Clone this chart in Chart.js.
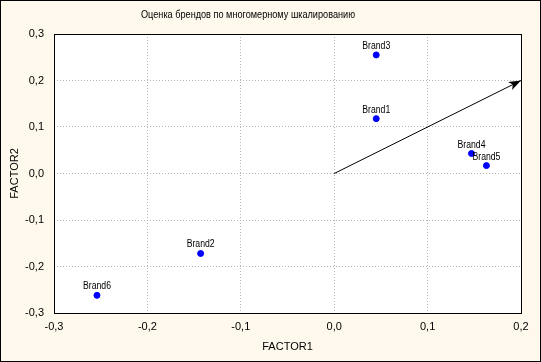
<!DOCTYPE html>
<html>
<head>
<meta charset="utf-8">
<script src="https://cdn.jsdelivr.net/npm/chart.js@4/dist/chart.umd.min.js"></script>
<style>
  body { margin: 0; background: #fef9ec; }
  canvas { display: block; }
</style>
</head>
<body>
<canvas id="chart" width="541" height="362"></canvas>
<script>
const brands = ['Brand1', 'Brand2', 'Brand3', 'Brand4', 'Brand5', 'Brand6'];
const factor1 = [0.045, -0.143, 0.045, 0.147, 0.163, -0.254];
const factor2 = [0.118, -0.172, 0.255, 0.043, 0.017, -0.262];
const arrowFrom = [0, 0];
const arrowTo = [0.2, 0.2];
const xTicks = [-0.3, -0.2, -0.1, 0.0, 0.1, 0.2];
const yTicks = [-0.3, -0.2, -0.1, 0.0, 0.1, 0.2, 0.3];
const titleText = 'Оценка брендов по многомерному шкалированию';

const FONT = 'Liberation Sans, Arial, sans-serif';

function fmt(v) {
  let s = Number(v).toFixed(1);
  if (s === '-0.0') s = '0.0';
  return s.replace('.', ',');
}

// фон, рамки, заголовок, подписи точек и стрелка
const decor = {
  id: 'decor',
  beforeDraw(chart) {
    const { ctx, chartArea: a } = chart;
    ctx.save();
    ctx.fillStyle = '#fef9ec';
    ctx.fillRect(0, 0, chart.width, chart.height);
    ctx.fillStyle = '#ffffff';
    ctx.fillRect(a.left, a.top, a.right - a.left, a.bottom - a.top);
    ctx.restore();
  },
  afterDraw(chart) {
    const { ctx, chartArea: a, scales } = chart;
    const x = scales.x, y = scales.y;
    ctx.save();
    // рамка графика
    ctx.strokeStyle = '#000';
    ctx.lineWidth = 1;
    ctx.strokeRect(Math.round(a.left) + 0.5, Math.round(a.top) + 0.5,
      Math.round(a.right - a.left), Math.round(a.bottom - a.top));
    // внешняя рамка
    ctx.strokeRect(0.5, 0.5, chart.width - 1, chart.height - 1);

    // заголовок (узкий шрифт как в оригинале)
    ctx.fillStyle = '#000';
    ctx.font = '11px ' + FONT;
    ctx.textAlign = 'center';
    ctx.textBaseline = 'middle';
    ctx.fillText(titleText, 248, 15, 214);

    // подписи брендов
    ctx.font = '10px ' + FONT;
    ctx.textBaseline = 'alphabetic';
    brands.forEach((b, i) => {
      const px = x.getPixelForValue(factor1[i]);
      const py = y.getPixelForValue(factor2[i]);
      ctx.fillText(b, px, py - 6, 28);
    });

    // наконечник стрелки
    const x0 = x.getPixelForValue(arrowFrom[0]), y0 = y.getPixelForValue(arrowFrom[1]);
    const x1 = x.getPixelForValue(arrowTo[0]), y1 = y.getPixelForValue(arrowTo[1]);
    const ang = Math.atan2(y1 - y0, x1 - x0);
    const len = 13, w = 0.35;
    ctx.beginPath();
    ctx.moveTo(x1, y1);
    ctx.lineTo(x1 - len * Math.cos(ang - w), y1 - len * Math.sin(ang - w));
    ctx.lineTo(x1 - len * 0.7 * Math.cos(ang), y1 - len * 0.7 * Math.sin(ang));
    ctx.lineTo(x1 - len * Math.cos(ang + w), y1 - len * Math.sin(ang + w));
    ctx.closePath();
    ctx.fill();
    ctx.restore();
  }
};

new Chart(document.getElementById('chart'), {
  type: 'scatter',
  data: {
    datasets: [
      {
        label: 'brands',
        data: brands.map((b, i) => ({ x: factor1[i], y: factor2[i] })),
        backgroundColor: '#0000ff',
        borderColor: '#0000ff',
        pointRadius: 3,
        pointHoverRadius: 3
      },
      {
        label: 'arrow',
        type: 'line',
        data: [{ x: arrowFrom[0], y: arrowFrom[1] }, { x: arrowTo[0], y: arrowTo[1] }],
        borderColor: '#000',
        borderWidth: 1,
        pointRadius: 0,
        showLine: true,
        fill: false
      }
    ]
  },
  options: {
    responsive: false,
    animation: false,
    events: [],
    layout: { padding: { left: 0, right: 20, top: 34, bottom: 0 } },
    plugins: {
      legend: { display: false },
      tooltip: { enabled: false }
    },
    scales: {
      x: {
        type: 'linear',
        min: -0.3, max: 0.2,
        afterBuildTicks: s => { s.ticks = xTicks.map(v => ({ value: v })); },
        afterFit: s => { s.height = 49; },
        ticks: { callback: fmt, color: '#000', font: { size: 11, family: FONT }, padding: 7, maxRotation: 0 },
        grid: { color: '#b4b4b4', drawTicks: false },
        border: { display: false, dash: [1, 2] },
        title: { display: true, text: 'FACTOR1', color: '#000', font: { size: 11, family: FONT }, padding: { top: 0, bottom: 8 } }
      },
      y: {
        type: 'linear',
        min: -0.3, max: 0.3,
        afterBuildTicks: s => { s.ticks = yTicks.map(v => ({ value: v })); },
        afterFit: s => { s.width = 54; },
        ticks: { callback: fmt, color: '#000', font: { size: 11, family: FONT }, padding: 10 },
        grid: { color: '#b4b4b4', drawTicks: false },
        border: { display: false, dash: [1, 2] },
        title: { display: true, text: 'FACTOR2', color: '#000', font: { size: 11, family: FONT }, padding: { top: 8, bottom: 0 } }
      }
    }
  },
  plugins: [decor]
});
</script>
</body>
</html>
